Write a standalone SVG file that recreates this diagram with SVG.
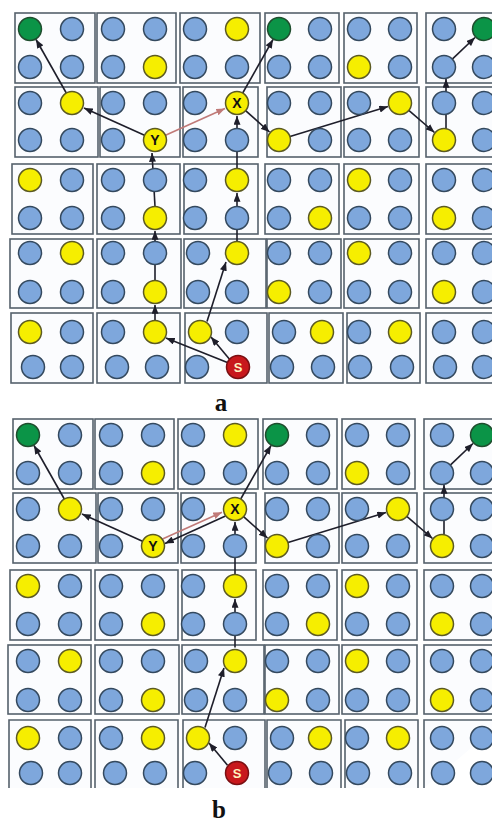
<svg xmlns="http://www.w3.org/2000/svg" width="492" height="826" viewBox="0 0 492 826">
<defs>
<style>
.bx{fill:#fbfcfe;stroke:#56616c;stroke-width:1.6}
.cb{fill:#7ea7dc;stroke:#34495e;stroke-width:1.5}
.cy{fill:#f6ee00;stroke:#5c5a22;stroke-width:1.5}
.cg{fill:#0b9447;stroke:#1f4d2e;stroke-width:1.5}
.cr{fill:#c8181c;stroke:#7a0f12;stroke-width:1.5}
.ln{stroke:#1e1e2a;stroke-width:1.6;fill:none;marker-end:url(#ah)}
.lr{stroke:#c07a78;stroke-width:1.6;fill:none;marker-end:url(#ahr)}
.lbl{font-family:"Liberation Sans",Arial,sans-serif;font-weight:bold;font-size:14px;text-anchor:middle;fill:#111}
.sl{fill:#fff3c0;font-size:13px}
.cap{font-family:"Liberation Serif","Times New Roman",serif;font-weight:bold;font-size:25px;text-anchor:middle;fill:#111}
</style>
<marker id="ah" viewBox="0 0 10 8" refX="10" refY="4" markerWidth="9" markerHeight="7" markerUnits="userSpaceOnUse" orient="auto"><path d="M0,0 L10,4 L0,8 z" fill="#1e1e2a"/></marker>
<marker id="ahr" viewBox="0 0 10 8" refX="10" refY="4" markerWidth="9" markerHeight="7" markerUnits="userSpaceOnUse" orient="auto"><path d="M0,0 L10,4 L0,8 z" fill="#c07a78"/></marker>
</defs>
<rect width="492" height="826" fill="#ffffff"/>

<!-- PANEL A -->
<g id="panel-a">
<g id="a-boxes">
<rect class="bx" x="15" y="13" width="80" height="70"/><rect class="bx" x="97" y="13" width="79" height="70"/><rect class="bx" x="180" y="13" width="80" height="70"/><rect class="bx" x="265" y="13" width="74" height="70"/><rect class="bx" x="344" y="13" width="73" height="70"/><rect class="bx" x="426" y="13" width="80" height="70"/>
<rect class="bx" x="15" y="87" width="83" height="70"/><rect class="bx" x="100" y="87" width="80" height="70"/><rect class="bx" x="183" y="87" width="75" height="70"/><rect class="bx" x="267" y="87" width="74" height="70"/><rect class="bx" x="344" y="87" width="75" height="70"/><rect class="bx" x="426" y="87" width="80" height="70"/>
<rect class="bx" x="12" y="164" width="81" height="70"/><rect class="bx" x="97" y="164" width="83" height="70"/><rect class="bx" x="184" y="164" width="74" height="70"/><rect class="bx" x="265" y="164" width="74" height="70"/><rect class="bx" x="344" y="164" width="75" height="70"/><rect class="bx" x="426" y="164" width="80" height="70"/>
<rect class="bx" x="10" y="239" width="83" height="69"/><rect class="bx" x="97" y="239" width="84" height="69"/><rect class="bx" x="184" y="239" width="82" height="69"/><rect class="bx" x="267" y="239" width="74" height="69"/><rect class="bx" x="344" y="239" width="75" height="69"/><rect class="bx" x="426" y="239" width="80" height="69"/>
<rect class="bx" x="11" y="313" width="82" height="70"/><rect class="bx" x="97" y="313" width="83" height="70"/><rect class="bx" x="185" y="313" width="82" height="70"/><rect class="bx" x="269" y="313" width="74" height="70"/><rect class="bx" x="347" y="313" width="73" height="70"/><rect class="bx" x="426" y="313" width="80" height="70"/>
</g>
<g id="a-connectors">
<path class="ln" d="M227.4,362.5 L166,338"/>
<path class="ln" d="M229.5,359.2 L211,337"/>
<path class="ln" d="M155,320.5 L155,305"/>
<path class="ln" d="M155,280.5 L155,231"/>
<path class="ln" d="M155,206.5 L152,153"/>
<path class="ln" d="M144.5,135.3 L84,108"/>
<path class="ln" d="M66.3,93 L36,39.5"/>
<path class="lr" d="M165.5,135.3 L225,108.5"/>
<path class="ln" d="M207,321.5 L226,262"/>
<path class="ln" d="M237,241.5 L237,193"/>
<path class="ln" d="M237,168.5 L237,116"/>
<path class="ln" d="M242.7,93 L273,39.5"/>
<path class="ln" d="M245.6,110.6 L269.5,132"/>
<path class="ln" d="M290,136.6 L388,106.6"/>
<path class="ln" d="M408.8,110.4 L434.5,132.5"/>
<path class="ln" d="M446,128.7 L446,79"/>
<path class="ln" d="M452.3,59.1 L475,37.5"/>
</g>
<g id="a-nodes">
<g id="a-r0c0"><circle class="cg" cx="30" cy="29" r="11.5"/></g>
<g id="a-r0c1"><circle class="cb" cx="72" cy="29" r="11.5"/></g>
<g id="a-r0c2"><circle class="cb" cx="113" cy="29" r="11.5"/></g>
<g id="a-r0c3"><circle class="cb" cx="155" cy="29" r="11.5"/></g>
<g id="a-r0c4"><circle class="cb" cx="195" cy="29" r="11.5"/></g>
<g id="a-r0c5"><circle class="cy" cx="237" cy="29" r="11.5"/></g>
<g id="a-r0c6"><circle class="cg" cx="279" cy="29" r="11.5"/></g>
<g id="a-r0c7"><circle class="cb" cx="320" cy="29" r="11.5"/></g>
<g id="a-r0c8"><circle class="cb" cx="359" cy="29" r="11.5"/></g>
<g id="a-r0c9"><circle class="cb" cx="400" cy="29" r="11.5"/></g>
<g id="a-r0c10"><circle class="cb" cx="444" cy="29" r="11.5"/></g>
<g id="a-r0c11"><circle class="cg" cx="484" cy="29" r="11.5"/></g>
<g id="a-r1c0"><circle class="cb" cx="30" cy="67" r="11.5"/></g>
<g id="a-r1c1"><circle class="cb" cx="72" cy="67" r="11.5"/></g>
<g id="a-r1c2"><circle class="cb" cx="113" cy="67" r="11.5"/></g>
<g id="a-r1c3"><circle class="cy" cx="155" cy="67" r="11.5"/></g>
<g id="a-r1c4"><circle class="cb" cx="195" cy="67" r="11.5"/></g>
<g id="a-r1c5"><circle class="cb" cx="237" cy="67" r="11.5"/></g>
<g id="a-r1c6"><circle class="cb" cx="279" cy="67" r="11.5"/></g>
<g id="a-r1c7"><circle class="cb" cx="320" cy="67" r="11.5"/></g>
<g id="a-r1c8"><circle class="cy" cx="359" cy="67" r="11.5"/></g>
<g id="a-r1c9"><circle class="cb" cx="400" cy="67" r="11.5"/></g>
<g id="a-r1c10"><circle class="cb" cx="444" cy="67" r="11.5"/></g>
<g id="a-r1c11"><circle class="cb" cx="484" cy="67" r="11.5"/></g>
<g id="a-r2c0"><circle class="cb" cx="30" cy="103" r="11.5"/></g>
<g id="a-r2c1"><circle class="cy" cx="72" cy="103" r="11.5"/></g>
<g id="a-r2c2"><circle class="cb" cx="113" cy="103" r="11.5"/></g>
<g id="a-r2c3"><circle class="cb" cx="155" cy="103" r="11.5"/></g>
<g id="a-r2c4"><circle class="cb" cx="195" cy="103" r="11.5"/></g>
<g id="a-X"><circle class="cy" cx="237" cy="103" r="11.5"/><text class="lbl" x="237" y="108">X</text></g>
<g id="a-r2c6"><circle class="cb" cx="279" cy="103" r="11.5"/></g>
<g id="a-r2c7"><circle class="cb" cx="320" cy="103" r="11.5"/></g>
<g id="a-r2c8"><circle class="cb" cx="359" cy="103" r="11.5"/></g>
<g id="a-r2c9"><circle class="cy" cx="400" cy="103" r="11.5"/></g>
<g id="a-r2c10"><circle class="cb" cx="444" cy="103" r="11.5"/></g>
<g id="a-r2c11"><circle class="cb" cx="484" cy="103" r="11.5"/></g>
<g id="a-r3c0"><circle class="cb" cx="30" cy="140" r="11.5"/></g>
<g id="a-r3c1"><circle class="cb" cx="72" cy="140" r="11.5"/></g>
<g id="a-r3c2"><circle class="cb" cx="113" cy="140" r="11.5"/></g>
<g id="a-Y"><circle class="cy" cx="155" cy="140" r="11.5"/><text class="lbl" x="155" y="145">Y</text></g>
<g id="a-r3c4"><circle class="cb" cx="195" cy="140" r="11.5"/></g>
<g id="a-r3c5"><circle class="cb" cx="237" cy="140" r="11.5"/></g>
<g id="a-r3c6"><circle class="cy" cx="279" cy="140" r="11.5"/></g>
<g id="a-r3c7"><circle class="cb" cx="320" cy="140" r="11.5"/></g>
<g id="a-r3c8"><circle class="cb" cx="359" cy="140" r="11.5"/></g>
<g id="a-r3c9"><circle class="cb" cx="400" cy="140" r="11.5"/></g>
<g id="a-r3c10"><circle class="cy" cx="444" cy="140" r="11.5"/></g>
<g id="a-r3c11"><circle class="cb" cx="484" cy="140" r="11.5"/></g>
<g id="a-r4c0"><circle class="cy" cx="30" cy="180" r="11.5"/></g>
<g id="a-r4c1"><circle class="cb" cx="72" cy="180" r="11.5"/></g>
<g id="a-r4c2"><circle class="cb" cx="113" cy="180" r="11.5"/></g>
<g id="a-r4c3"><circle class="cb" cx="155" cy="180" r="11.5"/></g>
<g id="a-r4c4"><circle class="cb" cx="195" cy="180" r="11.5"/></g>
<g id="a-r4c5"><circle class="cy" cx="237" cy="180" r="11.5"/></g>
<g id="a-r4c6"><circle class="cb" cx="279" cy="180" r="11.5"/></g>
<g id="a-r4c7"><circle class="cb" cx="320" cy="180" r="11.5"/></g>
<g id="a-r4c8"><circle class="cy" cx="359" cy="180" r="11.5"/></g>
<g id="a-r4c9"><circle class="cb" cx="400" cy="180" r="11.5"/></g>
<g id="a-r4c10"><circle class="cb" cx="444" cy="180" r="11.5"/></g>
<g id="a-r4c11"><circle class="cb" cx="484" cy="180" r="11.5"/></g>
<g id="a-r5c0"><circle class="cb" cx="30" cy="218" r="11.5"/></g>
<g id="a-r5c1"><circle class="cb" cx="72" cy="218" r="11.5"/></g>
<g id="a-r5c2"><circle class="cb" cx="113" cy="218" r="11.5"/></g>
<g id="a-r5c3"><circle class="cy" cx="155" cy="218" r="11.5"/></g>
<g id="a-r5c4"><circle class="cb" cx="195" cy="218" r="11.5"/></g>
<g id="a-r5c5"><circle class="cb" cx="237" cy="218" r="11.5"/></g>
<g id="a-r5c6"><circle class="cb" cx="279" cy="218" r="11.5"/></g>
<g id="a-r5c7"><circle class="cy" cx="320" cy="218" r="11.5"/></g>
<g id="a-r5c8"><circle class="cb" cx="359" cy="218" r="11.5"/></g>
<g id="a-r5c9"><circle class="cb" cx="400" cy="218" r="11.5"/></g>
<g id="a-r5c10"><circle class="cy" cx="444" cy="218" r="11.5"/></g>
<g id="a-r5c11"><circle class="cb" cx="484" cy="218" r="11.5"/></g>
<g id="a-r6c0"><circle class="cb" cx="30" cy="253" r="11.5"/></g>
<g id="a-r6c1"><circle class="cy" cx="72" cy="253" r="11.5"/></g>
<g id="a-r6c2"><circle class="cb" cx="113" cy="253" r="11.5"/></g>
<g id="a-r6c3"><circle class="cb" cx="155" cy="253" r="11.5"/></g>
<g id="a-r6c4"><circle class="cb" cx="198" cy="253" r="11.5"/></g>
<g id="a-r6c5"><circle class="cy" cx="237" cy="253" r="11.5"/></g>
<g id="a-r6c6"><circle class="cb" cx="279" cy="253" r="11.5"/></g>
<g id="a-r6c7"><circle class="cb" cx="320" cy="253" r="11.5"/></g>
<g id="a-r6c8"><circle class="cy" cx="359" cy="253" r="11.5"/></g>
<g id="a-r6c9"><circle class="cb" cx="400" cy="253" r="11.5"/></g>
<g id="a-r6c10"><circle class="cb" cx="444" cy="253" r="11.5"/></g>
<g id="a-r6c11"><circle class="cb" cx="484" cy="253" r="11.5"/></g>
<g id="a-r7c0"><circle class="cb" cx="30" cy="292" r="11.5"/></g>
<g id="a-r7c1"><circle class="cb" cx="72" cy="292" r="11.5"/></g>
<g id="a-r7c2"><circle class="cb" cx="113" cy="292" r="11.5"/></g>
<g id="a-r7c3"><circle class="cy" cx="155" cy="292" r="11.5"/></g>
<g id="a-r7c4"><circle class="cb" cx="198" cy="292" r="11.5"/></g>
<g id="a-r7c5"><circle class="cb" cx="237" cy="292" r="11.5"/></g>
<g id="a-r7c6"><circle class="cy" cx="279" cy="292" r="11.5"/></g>
<g id="a-r7c7"><circle class="cb" cx="320" cy="292" r="11.5"/></g>
<g id="a-r7c8"><circle class="cb" cx="359" cy="292" r="11.5"/></g>
<g id="a-r7c9"><circle class="cb" cx="400" cy="292" r="11.5"/></g>
<g id="a-r7c10"><circle class="cy" cx="444" cy="292" r="11.5"/></g>
<g id="a-r7c11"><circle class="cb" cx="484" cy="292" r="11.5"/></g>
<g id="a-r8c0"><circle class="cy" cx="30" cy="332" r="11.5"/></g>
<g id="a-r8c1"><circle class="cb" cx="72" cy="332" r="11.5"/></g>
<g id="a-r8c2"><circle class="cb" cx="113" cy="332" r="11.5"/></g>
<g id="a-r8c3"><circle class="cy" cx="155" cy="332" r="11.5"/></g>
<g id="a-r8c4"><circle class="cy" cx="200" cy="332" r="11.5"/></g>
<g id="a-r8c5"><circle class="cb" cx="237" cy="332" r="11.5"/></g>
<g id="a-r8c6"><circle class="cb" cx="284" cy="332" r="11.5"/></g>
<g id="a-r8c7"><circle class="cy" cx="322" cy="332" r="11.5"/></g>
<g id="a-r8c8"><circle class="cb" cx="359" cy="332" r="11.5"/></g>
<g id="a-r8c9"><circle class="cy" cx="400" cy="332" r="11.5"/></g>
<g id="a-r8c10"><circle class="cb" cx="444" cy="332" r="11.5"/></g>
<g id="a-r8c11"><circle class="cb" cx="484" cy="332" r="11.5"/></g>
<g id="a-r9c0"><circle class="cb" cx="33" cy="367" r="11.5"/></g>
<g id="a-r9c1"><circle class="cb" cx="72" cy="367" r="11.5"/></g>
<g id="a-r9c2"><circle class="cb" cx="117" cy="367" r="11.5"/></g>
<g id="a-r9c3"><circle class="cb" cx="157" cy="367" r="11.5"/></g>
<g id="a-r9c4"><circle class="cb" cx="197" cy="367" r="11.5"/></g>
<g id="a-S"><circle class="cr" cx="238" cy="367" r="11.5"/><text class="lbl sl" x="238" y="372">S</text></g>
<g id="a-r9c6"><circle class="cb" cx="282" cy="367" r="11.5"/></g>
<g id="a-r9c7"><circle class="cb" cx="323" cy="367" r="11.5"/></g>
<g id="a-r9c8"><circle class="cb" cx="360" cy="367" r="11.5"/></g>
<g id="a-r9c9"><circle class="cb" cx="402" cy="367" r="11.5"/></g>
<g id="a-r9c10"><circle class="cb" cx="445" cy="367" r="11.5"/></g>
<g id="a-r9c11"><circle class="cb" cx="484" cy="367" r="11.5"/></g>
</g>
</g>
<text class="cap" x="221" y="411">a</text>

<!-- PANEL B -->
<g id="panel-b" transform="translate(-2,406)">
<g id="b-boxes">
<rect class="bx" x="15" y="13" width="80" height="70"/><rect class="bx" x="97" y="13" width="79" height="70"/><rect class="bx" x="180" y="13" width="80" height="70"/><rect class="bx" x="265" y="13" width="74" height="70"/><rect class="bx" x="344" y="13" width="73" height="70"/><rect class="bx" x="426" y="13" width="80" height="70"/>
<rect class="bx" x="15" y="87" width="83" height="70"/><rect class="bx" x="100" y="87" width="80" height="70"/><rect class="bx" x="183" y="87" width="75" height="70"/><rect class="bx" x="267" y="87" width="74" height="70"/><rect class="bx" x="344" y="87" width="75" height="70"/><rect class="bx" x="426" y="87" width="80" height="70"/>
<rect class="bx" x="12" y="164" width="81" height="70"/><rect class="bx" x="97" y="164" width="83" height="70"/><rect class="bx" x="184" y="164" width="74" height="70"/><rect class="bx" x="265" y="164" width="74" height="70"/><rect class="bx" x="344" y="164" width="75" height="70"/><rect class="bx" x="426" y="164" width="80" height="70"/>
<rect class="bx" x="10" y="239" width="83" height="69"/><rect class="bx" x="97" y="239" width="84" height="69"/><rect class="bx" x="184" y="239" width="82" height="69"/><rect class="bx" x="267" y="239" width="74" height="69"/><rect class="bx" x="344" y="239" width="75" height="69"/><rect class="bx" x="426" y="239" width="80" height="69"/>
<path class="bx" d="M11,382 V314 H93 V382"/><path class="bx" d="M97,382 V314 H180 V382"/><path class="bx" d="M185,382 V314 H267 V382"/><path class="bx" d="M269,382 V314 H343 V382"/><path class="bx" d="M347,382 V314 H420 V382"/><path class="bx" d="M426,382 V314 H506"/>
</g>
<g id="b-connectors">
<path class="ln" d="M229.5,359.2 L211,337"/>
<path class="ln" d="M207,321.5 L226,262"/>
<path class="ln" d="M237,241.5 L237,193"/>
<path class="ln" d="M237,168.5 L237,116"/>
<path class="ln" d="M144.5,135.3 L84,108"/>
<path class="ln" d="M66.3,93 L36,39.5"/>
<path class="lr" d="M164.5,133 L224,106.2"/>
<path class="ln" d="M227.5,110 L167,137.4"/>
<path class="ln" d="M242.7,93 L273,39.5"/>
<path class="ln" d="M245.6,110.6 L269.5,132"/>
<path class="ln" d="M290,136.6 L388,106.6"/>
<path class="ln" d="M408.8,110.4 L434.5,132.5"/>
<path class="ln" d="M446,128.7 L446,79"/>
<path class="ln" d="M452.3,59.1 L475,37.5"/>
</g>
<g id="b-nodes">
<g id="b-r0c0"><circle class="cg" cx="30" cy="29" r="11.5"/></g>
<g id="b-r0c1"><circle class="cb" cx="72" cy="29" r="11.5"/></g>
<g id="b-r0c2"><circle class="cb" cx="113" cy="29" r="11.5"/></g>
<g id="b-r0c3"><circle class="cb" cx="155" cy="29" r="11.5"/></g>
<g id="b-r0c4"><circle class="cb" cx="195" cy="29" r="11.5"/></g>
<g id="b-r0c5"><circle class="cy" cx="237" cy="29" r="11.5"/></g>
<g id="b-r0c6"><circle class="cg" cx="279" cy="29" r="11.5"/></g>
<g id="b-r0c7"><circle class="cb" cx="320" cy="29" r="11.5"/></g>
<g id="b-r0c8"><circle class="cb" cx="359" cy="29" r="11.5"/></g>
<g id="b-r0c9"><circle class="cb" cx="400" cy="29" r="11.5"/></g>
<g id="b-r0c10"><circle class="cb" cx="444" cy="29" r="11.5"/></g>
<g id="b-r0c11"><circle class="cg" cx="484" cy="29" r="11.5"/></g>
<g id="b-r1c0"><circle class="cb" cx="30" cy="67" r="11.5"/></g>
<g id="b-r1c1"><circle class="cb" cx="72" cy="67" r="11.5"/></g>
<g id="b-r1c2"><circle class="cb" cx="113" cy="67" r="11.5"/></g>
<g id="b-r1c3"><circle class="cy" cx="155" cy="67" r="11.5"/></g>
<g id="b-r1c4"><circle class="cb" cx="195" cy="67" r="11.5"/></g>
<g id="b-r1c5"><circle class="cb" cx="237" cy="67" r="11.5"/></g>
<g id="b-r1c6"><circle class="cb" cx="279" cy="67" r="11.5"/></g>
<g id="b-r1c7"><circle class="cb" cx="320" cy="67" r="11.5"/></g>
<g id="b-r1c8"><circle class="cy" cx="359" cy="67" r="11.5"/></g>
<g id="b-r1c9"><circle class="cb" cx="400" cy="67" r="11.5"/></g>
<g id="b-r1c10"><circle class="cb" cx="444" cy="67" r="11.5"/></g>
<g id="b-r1c11"><circle class="cb" cx="484" cy="67" r="11.5"/></g>
<g id="b-r2c0"><circle class="cb" cx="30" cy="103" r="11.5"/></g>
<g id="b-r2c1"><circle class="cy" cx="72" cy="103" r="11.5"/></g>
<g id="b-r2c2"><circle class="cb" cx="113" cy="103" r="11.5"/></g>
<g id="b-r2c3"><circle class="cb" cx="155" cy="103" r="11.5"/></g>
<g id="b-r2c4"><circle class="cb" cx="195" cy="103" r="11.5"/></g>
<g id="b-X"><circle class="cy" cx="237" cy="103" r="11.5"/><text class="lbl" x="237" y="108">X</text></g>
<g id="b-r2c6"><circle class="cb" cx="279" cy="103" r="11.5"/></g>
<g id="b-r2c7"><circle class="cb" cx="320" cy="103" r="11.5"/></g>
<g id="b-r2c8"><circle class="cb" cx="359" cy="103" r="11.5"/></g>
<g id="b-r2c9"><circle class="cy" cx="400" cy="103" r="11.5"/></g>
<g id="b-r2c10"><circle class="cb" cx="444" cy="103" r="11.5"/></g>
<g id="b-r2c11"><circle class="cb" cx="484" cy="103" r="11.5"/></g>
<g id="b-r3c0"><circle class="cb" cx="30" cy="140" r="11.5"/></g>
<g id="b-r3c1"><circle class="cb" cx="72" cy="140" r="11.5"/></g>
<g id="b-r3c2"><circle class="cb" cx="113" cy="140" r="11.5"/></g>
<g id="b-Y"><circle class="cy" cx="155" cy="140" r="11.5"/><text class="lbl" x="155" y="145">Y</text></g>
<g id="b-r3c4"><circle class="cb" cx="195" cy="140" r="11.5"/></g>
<g id="b-r3c5"><circle class="cb" cx="237" cy="140" r="11.5"/></g>
<g id="b-r3c6"><circle class="cy" cx="279" cy="140" r="11.5"/></g>
<g id="b-r3c7"><circle class="cb" cx="320" cy="140" r="11.5"/></g>
<g id="b-r3c8"><circle class="cb" cx="359" cy="140" r="11.5"/></g>
<g id="b-r3c9"><circle class="cb" cx="400" cy="140" r="11.5"/></g>
<g id="b-r3c10"><circle class="cy" cx="444" cy="140" r="11.5"/></g>
<g id="b-r3c11"><circle class="cb" cx="484" cy="140" r="11.5"/></g>
<g id="b-r4c0"><circle class="cy" cx="30" cy="180" r="11.5"/></g>
<g id="b-r4c1"><circle class="cb" cx="72" cy="180" r="11.5"/></g>
<g id="b-r4c2"><circle class="cb" cx="113" cy="180" r="11.5"/></g>
<g id="b-r4c3"><circle class="cb" cx="155" cy="180" r="11.5"/></g>
<g id="b-r4c4"><circle class="cb" cx="195" cy="180" r="11.5"/></g>
<g id="b-r4c5"><circle class="cy" cx="237" cy="180" r="11.5"/></g>
<g id="b-r4c6"><circle class="cb" cx="279" cy="180" r="11.5"/></g>
<g id="b-r4c7"><circle class="cb" cx="320" cy="180" r="11.5"/></g>
<g id="b-r4c8"><circle class="cy" cx="359" cy="180" r="11.5"/></g>
<g id="b-r4c9"><circle class="cb" cx="400" cy="180" r="11.5"/></g>
<g id="b-r4c10"><circle class="cb" cx="444" cy="180" r="11.5"/></g>
<g id="b-r4c11"><circle class="cb" cx="484" cy="180" r="11.5"/></g>
<g id="b-r5c0"><circle class="cb" cx="30" cy="218" r="11.5"/></g>
<g id="b-r5c1"><circle class="cb" cx="72" cy="218" r="11.5"/></g>
<g id="b-r5c2"><circle class="cb" cx="113" cy="218" r="11.5"/></g>
<g id="b-r5c3"><circle class="cy" cx="155" cy="218" r="11.5"/></g>
<g id="b-r5c4"><circle class="cb" cx="195" cy="218" r="11.5"/></g>
<g id="b-r5c5"><circle class="cb" cx="237" cy="218" r="11.5"/></g>
<g id="b-r5c6"><circle class="cb" cx="279" cy="218" r="11.5"/></g>
<g id="b-r5c7"><circle class="cy" cx="320" cy="218" r="11.5"/></g>
<g id="b-r5c8"><circle class="cb" cx="359" cy="218" r="11.5"/></g>
<g id="b-r5c9"><circle class="cb" cx="400" cy="218" r="11.5"/></g>
<g id="b-r5c10"><circle class="cy" cx="444" cy="218" r="11.5"/></g>
<g id="b-r5c11"><circle class="cb" cx="484" cy="218" r="11.5"/></g>
<g id="b-r6c0"><circle class="cb" cx="30" cy="255" r="11.5"/></g>
<g id="b-r6c1"><circle class="cy" cx="72" cy="255" r="11.5"/></g>
<g id="b-r6c2"><circle class="cb" cx="113" cy="255" r="11.5"/></g>
<g id="b-r6c3"><circle class="cb" cx="155" cy="255" r="11.5"/></g>
<g id="b-r6c4"><circle class="cb" cx="198" cy="255" r="11.5"/></g>
<g id="b-r6c5"><circle class="cy" cx="237" cy="255" r="11.5"/></g>
<g id="b-r6c6"><circle class="cb" cx="279" cy="255" r="11.5"/></g>
<g id="b-r6c7"><circle class="cb" cx="320" cy="255" r="11.5"/></g>
<g id="b-r6c8"><circle class="cy" cx="359" cy="255" r="11.5"/></g>
<g id="b-r6c9"><circle class="cb" cx="400" cy="255" r="11.5"/></g>
<g id="b-r6c10"><circle class="cb" cx="444" cy="255" r="11.5"/></g>
<g id="b-r6c11"><circle class="cb" cx="484" cy="255" r="11.5"/></g>
<g id="b-r7c0"><circle class="cb" cx="30" cy="294" r="11.5"/></g>
<g id="b-r7c1"><circle class="cb" cx="72" cy="294" r="11.5"/></g>
<g id="b-r7c2"><circle class="cb" cx="113" cy="294" r="11.5"/></g>
<g id="b-r7c3"><circle class="cy" cx="155" cy="294" r="11.5"/></g>
<g id="b-r7c4"><circle class="cb" cx="198" cy="294" r="11.5"/></g>
<g id="b-r7c5"><circle class="cb" cx="237" cy="294" r="11.5"/></g>
<g id="b-r7c6"><circle class="cy" cx="279" cy="294" r="11.5"/></g>
<g id="b-r7c7"><circle class="cb" cx="320" cy="294" r="11.5"/></g>
<g id="b-r7c8"><circle class="cb" cx="359" cy="294" r="11.5"/></g>
<g id="b-r7c9"><circle class="cb" cx="400" cy="294" r="11.5"/></g>
<g id="b-r7c10"><circle class="cy" cx="444" cy="294" r="11.5"/></g>
<g id="b-r7c11"><circle class="cb" cx="484" cy="294" r="11.5"/></g>
<g id="b-r8c0"><circle class="cy" cx="30" cy="332" r="11.5"/></g>
<g id="b-r8c1"><circle class="cb" cx="72" cy="332" r="11.5"/></g>
<g id="b-r8c2"><circle class="cb" cx="113" cy="332" r="11.5"/></g>
<g id="b-r8c3"><circle class="cy" cx="155" cy="332" r="11.5"/></g>
<g id="b-r8c4"><circle class="cy" cx="200" cy="332" r="11.5"/></g>
<g id="b-r8c5"><circle class="cb" cx="237" cy="332" r="11.5"/></g>
<g id="b-r8c6"><circle class="cb" cx="284" cy="332" r="11.5"/></g>
<g id="b-r8c7"><circle class="cy" cx="322" cy="332" r="11.5"/></g>
<g id="b-r8c8"><circle class="cb" cx="359" cy="332" r="11.5"/></g>
<g id="b-r8c9"><circle class="cy" cx="400" cy="332" r="11.5"/></g>
<g id="b-r8c10"><circle class="cb" cx="444" cy="332" r="11.5"/></g>
<g id="b-r8c11"><circle class="cb" cx="484" cy="332" r="11.5"/></g>
<g id="b-r9c0"><circle class="cb" cx="33" cy="367" r="11.5"/></g>
<g id="b-r9c1"><circle class="cb" cx="72" cy="367" r="11.5"/></g>
<g id="b-r9c2"><circle class="cb" cx="117" cy="367" r="11.5"/></g>
<g id="b-r9c3"><circle class="cb" cx="157" cy="367" r="11.5"/></g>
<g id="b-r9c4"><circle class="cb" cx="197" cy="367" r="11.5"/></g>
<g id="b-S"><circle class="cr" cx="239" cy="367" r="11.5"/><text class="lbl sl" x="239" y="372">S</text></g>
<g id="b-r9c6"><circle class="cb" cx="282" cy="367" r="11.5"/></g>
<g id="b-r9c7"><circle class="cb" cx="323" cy="367" r="11.5"/></g>
<g id="b-r9c8"><circle class="cb" cx="360" cy="367" r="11.5"/></g>
<g id="b-r9c9"><circle class="cb" cx="402" cy="367" r="11.5"/></g>
<g id="b-r9c10"><circle class="cb" cx="445" cy="367" r="11.5"/></g>
<g id="b-r9c11"><circle class="cb" cx="484" cy="367" r="11.5"/></g>
</g>
</g>
<text class="cap" x="219" y="818">b</text>
</svg>
